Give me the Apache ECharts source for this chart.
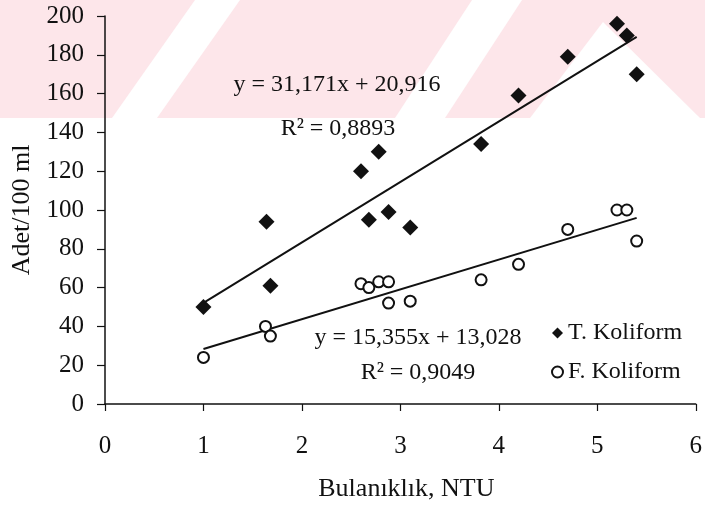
<!DOCTYPE html>
<html>
<head>
<meta charset="utf-8">
<script src="https://cdn.jsdelivr.net/npm/echarts@6/dist/echarts.min.js"></script>
<style>
  html, body { margin: 0; padding: 0; background: #fff; }
  #chart { width: 705px; height: 507px; }
</style>
</head>
<body>
<div id="chart"></div>
<script>
// Turbidity (NTU) vs. coliform counts per 100 ml
const tKoliformX = [1, 1.64, 1.68, 2.6, 2.68, 2.78, 2.88, 3.1, 3.82, 4.2, 4.7, 5.2, 5.3, 5.4];
const tKoliformY = [50, 94, 61, 120, 95, 130, 99, 91, 134, 159, 179, 196, 190, 170];
const fKoliformX = [1, 1.63, 1.68, 2.6, 2.68, 2.78, 2.88, 2.88, 3.1, 3.82, 4.2, 4.7, 5.2, 5.3, 5.4];
const fKoliformY = [24, 40, 35, 62, 60, 63, 63, 52, 53, 64, 72, 90, 100, 100, 84];

// Linear fits: [slope, intercept] and the x-range they cover
const tFit = [31.171, 20.916];
const fFit = [15.355, 13.028];
const fitRange = [1, 5.4];
const tR2 = '0,8893';
const fR2 = '0,9049';

const seriesNames = ['T. Koliform', 'F. Koliform'];
const xTicks = [0, 1, 2, 3, 4, 5, 6];
const yTicks = [0, 20, 40, 60, 80, 100, 120, 140, 160, 180, 200];

const FONT = '"Liberation Serif", "Times New Roman", serif';
const INK = '#111';

const pairs = (xs, ys) => xs.map((x, i) => [x, ys[i]]);
const fitLine = (fit) => fitRange.map(x => [x, fit[0] * x + fit[1]]);
const dec = (v) => String(v).replace('.', ',');
const equation = (fit) => 'y = ' + dec(fit[0]) + 'x + ' + dec(fit[1]);

function label(text, x, y, size) {
  return {
    type: 'text', x: x, y: y, z: 10,
    style: {
      text: text, fill: INK, font: size + 'px ' + FONT,
      align: 'center', verticalAlign: 'middle',
      textAlign: 'center', textVerticalAlign: 'middle'
    }
  };
}

// Light pink background emblem across the top band
const PINK = '#fde6ea';
const emblem = [
  { type: 'rect', shape: { x: 0, y: 0, width: 705, height: 118 }, style: { fill: PINK } },
  { type: 'polygon', shape: { points: [[195, 0], [240, 0], [157, 118], [112, 118]] }, style: { fill: '#fff' } },
  { type: 'polygon', shape: { points: [[472, 0], [522, 0], [445, 118], [395, 118]] }, style: { fill: '#fff' } },
  { type: 'polygon', shape: { points: [[603, 22], [700, 118], [530, 118]] }, style: { fill: '#fff' } }
].map(e => Object.assign({ z: -10, silent: true }, e));

const chart = echarts.init(document.getElementById('chart'), null, { renderer: 'canvas' });

chart.setOption({
  backgroundColor: 'transparent',
  animation: false,
  textStyle: { fontFamily: FONT, color: INK },
  grid: { left: 105, right: 6, top: 16, bottom: 103, containLabel: false },
  xAxis: {
    type: 'value', min: xTicks[0], max: xTicks[xTicks.length - 1], interval: 1,
    name: 'Bulanıklık, NTU', nameLocation: 'middle', nameGap: 72,
    nameTextStyle: { fontSize: 26, fontFamily: FONT, color: INK, padding: [0, 0, 0, 12] },
    axisLine: { onZero: false, lineStyle: { color: INK, width: 1.5 } },
    axisTick: { show: true, length: 7, lineStyle: { color: INK, width: 1.2 } },
    axisLabel: { fontSize: 25, fontFamily: FONT, color: INK, margin: 30 },
    splitLine: { show: false }
  },
  yAxis: {
    type: 'value', min: yTicks[0], max: yTicks[yTicks.length - 1], interval: 20,
    name: 'Adet/100 ml', nameLocation: 'middle', nameGap: 70, nameRotate: 90,
    nameTextStyle: { fontSize: 26, fontFamily: FONT, color: INK },
    axisLine: { show: true, onZero: false, lineStyle: { color: INK, width: 1.5 } },
    axisTick: { show: true, length: 8, lineStyle: { color: INK, width: 1.2 } },
    axisLabel: { fontSize: 25, fontFamily: FONT, color: INK, margin: 21 },
    splitLine: { show: false }
  },
  legend: {
    orient: 'vertical', left: 546, top: 316, itemWidth: 11, itemHeight: 11, itemGap: 15,
    textStyle: { fontSize: 24, fontFamily: FONT, color: INK },
    data: [
      { name: seriesNames[0], icon: 'diamond', itemStyle: { color: INK, opacity: 1 } },
      { name: seriesNames[1], icon: 'emptyCircle', itemStyle: { color: INK, borderColor: INK, borderWidth: 1.5, opacity: 1 } }
    ]
  },
  series: [
    {
      name: seriesNames[0], type: 'scatter', symbol: 'diamond', symbolSize: 16,
      itemStyle: { color: INK, opacity: 1 }, data: pairs(tKoliformX, tKoliformY), z: 5
    },
    {
      name: seriesNames[1], type: 'scatter', symbol: 'emptyCircle', symbolSize: 11,
      itemStyle: { color: INK, borderColor: INK, borderWidth: 2, opacity: 1 },
      data: pairs(fKoliformX, fKoliformY), z: 5
    },
    {
      name: 'tFit', type: 'line', data: fitLine(tFit), showSymbol: false, symbol: 'none',
      lineStyle: { color: INK, width: 2 }, silent: true, z: 4
    },
    {
      name: 'fFit', type: 'line', data: fitLine(fFit), showSymbol: false, symbol: 'none',
      lineStyle: { color: INK, width: 2 }, silent: true, z: 4
    }
  ],
  graphic: emblem.concat([
    label(equation(tFit), 337, 85, 24),
    label('R² = ' + tR2, 338, 129, 24),
    label(equation(fFit), 418, 338, 24),
    label('R² = ' + fR2, 418, 373, 24)
  ])
});
</script>
</body>
</html>
